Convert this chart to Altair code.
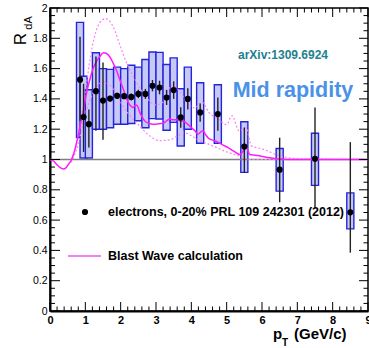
import altair as alt
import pandas as pd

# ---------------- data ----------------
pt = [0.85, 0.95, 1.1, 1.3, 1.5, 1.7, 1.9, 2.1, 2.3, 2.5, 2.7, 2.9, 3.1, 3.3,
      3.5, 3.7, 3.9, 4.25, 4.75, 5.5, 6.5, 7.5, 8.5]
rda = [1.527, 1.28, 1.233, 1.451, 1.389, 1.402, 1.42, 1.418, 1.413, 1.433, 1.433,
       1.487, 1.475, 1.409, 1.458, 1.278, 1.40, 1.311, 1.30, 1.085, 0.933, 1.005, 0.651]
stat_lo = [1.255, 1.05, 1.08, 1.19, 1.13, 1.385, 1.40, 1.40, 1.39, 1.405, 1.40,
           1.45, 1.43, 1.36, 1.40, 1.21, 1.33, 1.25, 1.19, 0.911, 0.718, 0.685, 0.385]
stat_hi = [1.811, 1.50, 1.33, 1.68, 1.64, 1.42, 1.44, 1.436, 1.436, 1.461, 1.466,
           1.525, 1.52, 1.46, 1.516, 1.345, 1.47, 1.37, 1.41, 1.211, 1.144, 1.344, 1.115]
sys_lo = [1.145, 1.01, 1.01, 1.20, 1.20, 1.21, 1.233, 1.233, 1.238, 1.256, 1.21,
          1.27, 1.267, 1.193, 1.245, 1.089, 1.20, 1.107, 1.107, 0.915, 0.791, 0.829, 0.542]
sys_hi = [1.905, 1.55, 1.46, 1.705, 1.60, 1.595, 1.61, 1.60, 1.622, 1.61, 1.66,
          1.71, 1.707, 1.627, 1.671, 1.467, 1.61, 1.507, 1.493, 1.249, 1.073, 1.173, 0.78]

# Blast wave calculation (solid) and its band (dotted)
bw_pt = [0.0, 0.1, 0.2, 0.3, 0.38, 0.45, 0.53, 0.61, 0.7, 0.78, 0.85, 0.95, 1.04, 1.13,
         1.22, 1.32, 1.41, 1.51, 1.6, 1.69, 1.78, 1.88, 1.97, 2.07, 2.14, 2.21, 2.28,
         2.35, 2.41, 2.45, 2.5, 2.54, 2.61, 2.68, 2.8, 2.92, 3.05, 3.2, 3.3, 3.39, 3.48,
         3.58, 3.7, 3.81, 3.9, 4.0, 4.1, 4.19, 4.26, 4.33, 4.4, 4.47, 4.6, 4.75, 4.9,
         5.04, 5.2, 5.37, 5.45, 5.54, 5.6, 5.65, 5.8, 5.98, 6.2, 6.45, 7.0, 9.0]
bw_r = [1.0, 0.99, 0.965, 0.945, 0.938, 0.945, 0.97, 1.0, 1.06, 1.14, 1.22, 1.33, 1.445,
        1.53, 1.60, 1.65, 1.68, 1.705, 1.70, 1.678, 1.64, 1.589, 1.53, 1.467, 1.42,
        1.378, 1.355, 1.344, 1.355, 1.36, 1.34, 1.311, 1.28, 1.255, 1.238, 1.233, 1.235,
        1.24, 1.255, 1.267, 1.262, 1.262, 1.255, 1.249, 1.232, 1.211, 1.19, 1.167, 1.18,
        1.189, 1.165, 1.144, 1.128, 1.115, 1.095, 1.078, 1.055, 1.033, 1.05, 1.089, 1.06,
        1.033, 1.028, 1.022, 1.012, 1.004, 1.0, 1.0]
bw_up_pt = [0.6, 0.8, 1.0, 1.2, 1.4, 1.58, 1.8, 2.0, 2.2, 2.4, 2.6, 2.8, 3.0, 3.2, 3.45,
            3.7, 3.9, 4.1, 4.3, 4.5, 4.75, 5.0, 5.15, 5.35, 5.55, 5.7, 6.0, 6.5, 7.0, 9.0]
bw_up_r = [1.0, 1.15, 1.45, 1.75, 1.9, 1.93, 1.87, 1.74, 1.62, 1.53, 1.45, 1.39, 1.36,
           1.38, 1.49, 1.44, 1.37, 1.34, 1.38, 1.31, 1.27, 1.23, 1.29, 1.19, 1.21, 1.09,
           1.07, 1.025, 1.005, 1.0]
bw_lo_pt = [0.6, 0.8, 1.0, 1.2, 1.5, 1.7, 1.9, 2.1, 2.3, 2.5, 2.8, 3.1, 3.4, 3.6, 3.8,
            4.2, 4.6, 4.95, 5.4, 5.7, 9.0]
bw_lo_r = [0.98, 1.1, 1.3, 1.43, 1.51, 1.49, 1.42, 1.34, 1.28, 1.23, 1.16, 1.125, 1.13,
           1.155, 1.175, 1.13, 1.09, 1.055, 1.02, 1.0, 1.0]

ref_level = [1.0]
x_major = [0, 1, 2, 3, 4, 5, 6, 7, 8, 9]
x_minor = [round(i * 0.2, 2) for i in range(46) if i % 5 != 0]
y_major = [0, 0.2, 0.4, 0.6, 0.8, 1, 1.2, 1.4, 1.6, 1.8, 2]
y_minor = [round(i * 0.05, 2) for i in range(41) if i % 4 != 0]

# ---------------- chart ----------------
W, H = 318, 303
FONT = "Liberation Sans"
xs = alt.Scale(domain=[0, 9], nice=False, zero=False)
ys = alt.Scale(domain=[0, 2], nice=False, zero=False)

pts = pd.DataFrame(dict(pt=pt, r=rda, slo=stat_lo, shi=stat_hi, ylo=sys_lo, yhi=sys_hi))

xaxis = alt.Axis(values=x_major, format="d", ticks=False, domain=True, domainColor="black",
                 domainWidth=2, labelFont=FONT, labelFontWeight="bold", labelFontSize=11,
                 labelColor="black", labelPadding=3, labelFlush=False, labelOverlap=False,
                 grid=False, title=None)
yaxis = alt.Axis(values=y_major, format="~g", ticks=False, domain=True, domainColor="black",
                 domainWidth=2, labelFont=FONT, labelFontSize=10.5, labelColor="black",
                 labelPadding=3, labelFlush=False, labelOverlap=False, grid=False, title=None)


def X(f):
    return alt.X(f, scale=xs, axis=xaxis)


def Y(f):
    return alt.Y(f, scale=ys, axis=yaxis)


base_axes = alt.Chart(pd.DataFrame({"v": ref_level})).mark_rule(
    color="#808080", strokeWidth=1.5).encode(
    y=Y("v:Q"), x=alt.value(0), x2=alt.value(W))

boxes = alt.Chart(pts).transform_calculate(
    x0="datum.pt - 0.1", x1="datum.pt + 0.1").mark_rect(
    fill="#c6c9f6", stroke="#2424dc", strokeWidth=1.4).encode(
    x=X("x0:Q"), x2="x1:Q", y=Y("ylo:Q"), y2="yhi:Q")


def curve(xv, yv, **kw):
    return alt.Chart(pd.DataFrame({"x": xv, "y": yv})).mark_line(
        interpolate="monotone", **kw).encode(x=X("x:Q"), y=Y("y:Q"))


bw_solid = curve(bw_pt, bw_r, color="#ff1aff", strokeWidth=1.5)
bw_up = curve(bw_up_pt, bw_up_r, color="#ff80f4", strokeWidth=1.2, strokeDash=[2, 2])
bw_lo = curve(bw_lo_pt, bw_lo_r, color="#ff80f4", strokeWidth=1.2, strokeDash=[2, 2])

bars = alt.Chart(pts).mark_rule(color="#222222", strokeWidth=1.4).encode(
    x=X("pt:Q"), y=Y("slo:Q"), y2="shi:Q")

dots = alt.Chart(pts).mark_circle(color="black", size=38, opacity=1).encode(
    x=X("pt:Q"), y=Y("r:Q"))


# frame ticks (ROOT style, inward)
def tickrules(vals, side, length):
    df = pd.DataFrame({"v": vals})
    m = alt.Chart(df).mark_rule(color="black", strokeWidth=1)
    if side == "bottom":
        return m.encode(x=X("v:Q"), y=alt.value(H), y2=alt.value(H - length))
    if side == "top":
        return m.encode(x=X("v:Q"), y=alt.value(0), y2=alt.value(length))
    if side == "left":
        return m.encode(y=Y("v:Q"), x=alt.value(0), x2=alt.value(length))
    return m.encode(y=Y("v:Q"), x=alt.value(W), x2=alt.value(W - length))


ticks = [tickrules(x_major, "bottom", 9), tickrules(x_minor, "bottom", 4.5),
         tickrules(x_major, "top", 9), tickrules(x_minor, "top", 4.5),
         tickrules(y_major, "left", 10), tickrules(y_minor, "left", 5),
         tickrules(y_major, "right", 9), tickrules(y_minor, "right", 4.5)]


def label(t, x, y, size, color="black", weight="normal", angle=0, align="left",
          baseline="alphabetic"):
    kw = dict(fontSize=size, font=FONT, color=color, fontWeight=weight, align=align,
              baseline=baseline)
    if angle:
        kw["angle"] = angle
    return alt.Chart(pd.DataFrame({"t": [t]})).mark_text(**kw).encode(
        text="t:N", x=alt.value(x), y=alt.value(y))


texts = [
    label("arXiv:1309.6924", 233, 51, 12, color="#22808f", weight="bold", align="center"),
    label("Mid rapidity", 243, 88.5, 21.5, color="#4a92e8", weight="bold", align="center"),
    label("electrons, 0-20% PRL 109 242301 (2012)", 58, 204, 12.5, weight="bold",
          baseline="middle"),
    label("Blast Wave calculation", 58, 248, 12.5, weight="bold", baseline="middle"),
    label("R", -29, 31, 17, angle=270, align="center", baseline="middle"),
    label("dA", -21, 15, 11, angle=270, align="center", baseline="middle"),
    label("p", 223, 331, 15, weight="bold"),
    label("T", 232, 338, 10, weight="bold"),
    label("(GeV/c)", 244, 331, 15, weight="bold"),
]

leg_dot = alt.Chart(pd.DataFrame({"v": [0]})).mark_circle(color="black", size=38, opacity=1).encode(
    x=alt.value(35), y=alt.value(204))
leg_line = alt.Chart(pd.DataFrame({"v": [0]})).mark_rule(color="#f57ff0", strokeWidth=2).encode(
    x=alt.value(18), x2=alt.value(51), y=alt.value(248))

chart = alt.layer(
    boxes, base_axes, bw_up, bw_lo, bw_solid, bars, dots, *ticks,
    leg_dot, leg_line, *texts
).properties(
    width=W, height=H,
    autosize=alt.AutoSizeParams(type="none"),
    padding={"left": 50, "top": 8, "right": 1, "bottom": 37},
    background="white",
).configure_view(stroke="black", strokeWidth=1.5)

chart.save("out.html", embed_options={"renderer": "svg", "actions": False})
